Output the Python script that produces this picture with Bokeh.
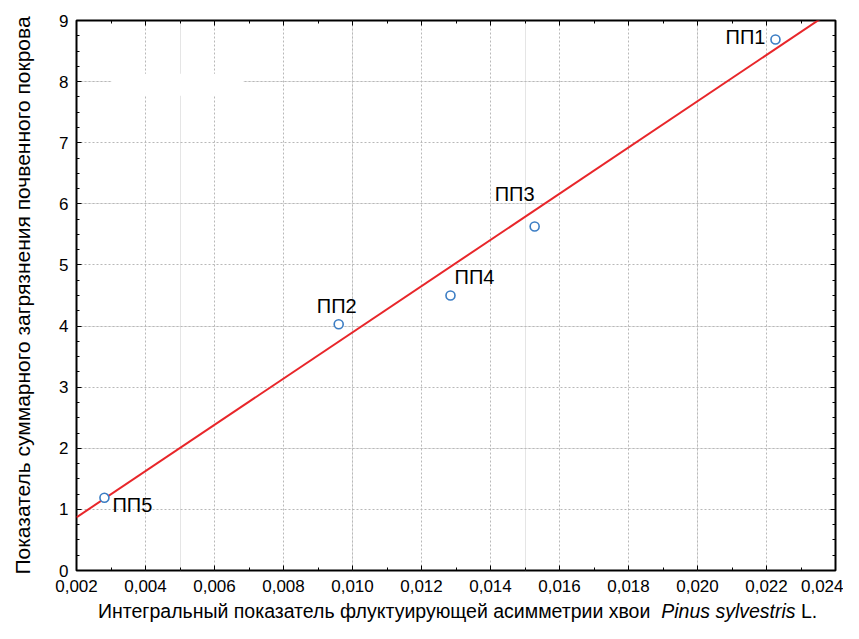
from bokeh.plotting import figure
from bokeh.models import (Range1d, FixedTicker, LinearAxis, CustomJSTickFormatter,
                          Label, BoxAnnotation, ColumnDataSource, Grid, Div)
from bokeh.layouts import column
from bokeh.embed import file_html
from bokeh.resources import INLINE
import numpy as np

# ---- data ----
site_names = ["ПП1", "ПП2", "ПП3", "ПП4", "ПП5"]
asym_x = [0.02226, 0.0096, 0.01528, 0.01284, 0.00281]
pollution_y = [8.69, 4.03, 5.63, 4.50, 1.19]

fit_x = [0.002, 0.02357]
fit_y = [0.87, 9.03]

x_ticks = [0.002, 0.004, 0.006, 0.008, 0.010, 0.012, 0.014, 0.016, 0.018, 0.020, 0.022, 0.024]
y_ticks = [0, 1, 2, 3, 4, 5, 6, 7, 8, 9]

x_title_plain = "Интегральный показатель флуктуирующей асимметрии хвои"
x_title_italic = "Pinus sylvestris"
x_title_tail = "L."
y_title = "Показатель суммарного загрязнения почвенного покрова"

FONT = "Liberation Sans"

p = figure(width=843, height=600, output_backend="svg", toolbar_location=None,
           x_range=Range1d(0.002, 0.024), y_range=Range1d(0, 9),
           min_border_left=76, min_border_right=8, min_border_top=20, min_border_bottom=30,
           x_axis_location=None, y_axis_location=None)
p.background_fill_color = "white"
p.border_fill_color = "white"
p.outline_line_color = "black"
p.outline_line_width = 2

x_minor = list(np.round(np.arange(0.002, 0.0241, 0.001), 4))
y_minor = list(np.round(np.arange(0, 9.01, 0.25), 3))
xt = FixedTicker(ticks=x_ticks, minor_ticks=x_minor)
yt = FixedTicker(ticks=y_ticks, minor_ticks=y_minor)

xfmt = CustomJSTickFormatter(code="return tick.toFixed(3).replace('.', ',');")
yfmt = CustomJSTickFormatter(code="return tick.toFixed(0);")


def style_axis(ax, labels=True):
    ax.axis_line_color = None
    ax.major_tick_in = 5
    ax.major_tick_out = 0
    ax.minor_tick_in = 3
    ax.minor_tick_out = 0
    ax.major_tick_line_color = "black"
    ax.minor_tick_line_color = "black"
    ax.major_tick_line_width = 1
    ax.minor_tick_line_width = 1
    ax.major_label_text_font = FONT
    ax.major_label_text_font_size = "17px"
    ax.major_label_text_color = "black" if labels else None
    if not labels:
        ax.major_label_standoff = 0


bottom = LinearAxis(ticker=xt, formatter=xfmt)
style_axis(bottom)
bottom.major_label_standoff = 9
p.add_layout(bottom, "below")

top = LinearAxis(ticker=xt, formatter=xfmt)
style_axis(top, labels=False)
p.add_layout(top, "above")

left = LinearAxis(ticker=yt, formatter=yfmt, axis_label=y_title)
style_axis(left)
left.major_label_standoff = 8
left.axis_label_text_font = FONT
left.axis_label_text_font_size = "21px"
left.axis_label_text_font_style = "normal"
left.axis_label_text_color = "black"
left.axis_label_standoff = 22
p.add_layout(left, "left")

right = LinearAxis(ticker=yt, formatter=yfmt)
style_axis(right, labels=False)
p.add_layout(right, "right")

p.add_layout(Grid(dimension=0, ticker=xt, grid_line_color="#b8b8b8",
                  grid_line_dash="2 2", grid_line_width=1))
p.add_layout(Grid(dimension=1, ticker=yt, grid_line_color="#b8b8b8",
                  grid_line_dash="2 2", grid_line_width=1))

# blank white box present in the source image
p.add_layout(BoxAnnotation(left=0.00301, right=0.00684, bottom=7.77, top=8.13,
                           fill_color="white", fill_alpha=1.0, line_color=None,
                           level="underlay"))

# regression line
p.line(fit_x, fit_y, line_color="#e8262a", line_width=2)

# points
src = ColumnDataSource(dict(x=asym_x, y=pollution_y, name=site_names))
p.scatter("x", "y", source=src, size=9, marker="circle", fill_color="white",
          line_color="#3b7dc4", line_width=1.6)

# point labels: (x_offset, y_offset, align)
label_style = {
    "ПП1": (-10, 2, "right"),
    "ПП2": (-2, 18, "center"),
    "ПП3": (-20, 32, "center"),
    "ПП4": (24, 19, "center"),
    "ПП5": (8, -7, "left"),
}
for nm, xv, yv in zip(site_names, asym_x, pollution_y):
    dx, dy, al = label_style[nm]
    p.add_layout(Label(x=xv, y=yv, text=nm, x_offset=dx, y_offset=dy,
                       text_align=al, text_baseline="middle",
                       text_font=FONT, text_font_size="20px", text_color="black"))

# x-axis title (mixed upright / italic)
title_html = (
    '<div style="font-family:\'Liberation Sans\'; font-size:19.5px; line-height:23px; '
    'color:black; white-space:nowrap; padding-left:98px;">'
    f'{x_title_plain}&nbsp; <i>{x_title_italic}</i> {x_title_tail}</div>'
)
xtitle = Div(text=title_html, width=843, height=23, margin=(0, 0, 0, 0))

layout = column(p, xtitle, spacing=0)

open("out.html", "w").write(file_html(layout, INLINE))
